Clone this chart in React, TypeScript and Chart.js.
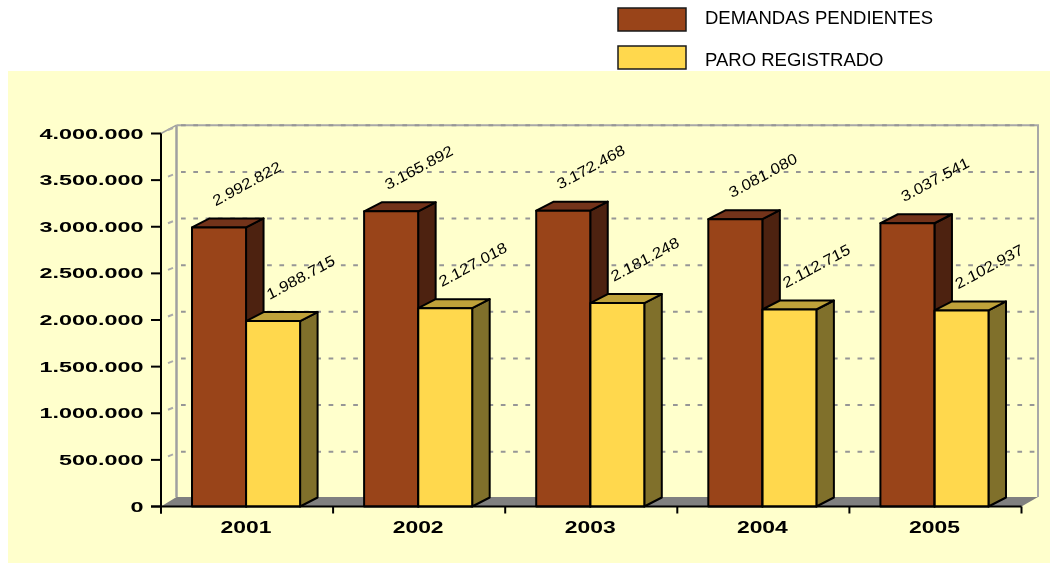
import React, { useEffect, useRef } from "react";
import { Chart, registerables } from "chart.js";

Chart.register(...registerables);

const years = ["2001", "2002", "2003", "2004", "2005"];
const demandas = [2992822, 3165892, 3172468, 3081080, 3037541];
const paro = [1988715, 2127018, 2181248, 2112715, 2102937];
const seriesNames = ["DEMANDAS PENDIENTES", "PARO REGISTRADO"];

const formatES = (v: number) => String(v).replace(/\B(?=(\d{3})+(?!\d))/g, ".");

const DX = 17.5;
const DY = -9;
const PALETTE = [
  { front: "#994419", top: "#73331A", side: "#4D2210" },
  { front: "#FFD84D", top: "#BFA23A", side: "#80702B" },
];
const FONT = '"Liberation Sans", Arial, sans-serif';

function stretched(ctx: CanvasRenderingContext2D, text: string, x: number, y: number, font: string, sx: number, align: "right" | "center") {
  ctx.save();
  ctx.translate(x, y);
  ctx.scale(sx, 1);
  ctx.font = font;
  ctx.fillStyle = "#000";
  ctx.textAlign = align;
  ctx.textBaseline = "alphabetic";
  ctx.fillText(text, 0, 0);
  ctx.restore();
}

function poly(ctx: CanvasRenderingContext2D, pts: number[][], fill: string, stroke?: string, lw = 2) {
  ctx.beginPath();
  pts.forEach((p, i) => (i ? ctx.lineTo(p[0], p[1]) : ctx.moveTo(p[0], p[1])));
  ctx.closePath();
  ctx.fillStyle = fill;
  ctx.fill();
  if (stroke) {
    ctx.lineWidth = lw;
    ctx.strokeStyle = stroke;
    ctx.lineJoin = "round";
    ctx.stroke();
  }
}

const chart3d = {
  id: "chart3d",
  beforeDraw(chart: any) {
    const ctx = chart.ctx as CanvasRenderingContext2D;
    ctx.save();
    ctx.fillStyle = "#FFFFFF";
    ctx.fillRect(0, 0, chart.width, chart.height);
    ctx.fillStyle = "#FFFFCC";
    ctx.fillRect(8, 71, chart.width - 8, chart.height - 71);
    ctx.restore();
  },
  beforeDatasetsDraw(chart: any) {
    const ctx = chart.ctx as CanvasRenderingContext2D;
    const { left, right, top, bottom } = chart.chartArea;
    const yScale = chart.scales.y;
    const ax = left + 1;
    const wallL = left + 16.5;
    const wallR = right + DX;
    ctx.save();
    // floor
    poly(ctx, [[ax, bottom], [wallL, bottom - 9.5], [wallR, bottom - 9.5], [right + 1, bottom]], "#808080");
    // walls
    ctx.strokeStyle = "#A0A0A0";
    ctx.lineWidth = 2.5;
    ctx.beginPath();
    ctx.moveTo(wallL, top - 8.3);
    ctx.lineTo(wallL, bottom - 9.5);
    ctx.stroke();
    ctx.lineWidth = 1.5;
    ctx.beginPath();
    ctx.moveTo(ax, top);
    ctx.lineTo(wallL, top - 8.3);
    ctx.stroke();
    ctx.strokeStyle = "#A8A8A8";
    ctx.lineWidth = 2;
    ctx.beginPath();
    ctx.moveTo(wallL, top - 8.3);
    ctx.lineTo(wallR, top - 8.3);
    ctx.lineTo(wallR, bottom - 9.5);
    ctx.stroke();
    // grid
    ctx.lineWidth = 2;
    yScale.ticks.forEach((t: any) => {
      const y = yScale.getPixelForValue(t.value);
      if (t.value === 0) return;
      ctx.strokeStyle = "#ABABAB";
      ctx.setLineDash([]);
      ctx.beginPath();
      ctx.moveTo(left + 8, y - 3.5);
      ctx.lineTo(left + 13, y - 5.5);
      ctx.stroke();
      ctx.strokeStyle = "#969696";
      ctx.setLineDash([4.7, 7.6]);
      ctx.beginPath();
      ctx.moveTo(left + 21, y - 8.2);
      ctx.lineTo(right + 14, y - 8.2);
      ctx.stroke();
    });
    ctx.setLineDash([]);
    // depth faces of every bar
    chart.data.datasets.forEach((_: any, di: number) => {
      const meta = chart.getDatasetMeta(di);
      const c = PALETTE[di];
      meta.data.forEach((bar: any) => {
        const l = bar.x - bar.width / 2;
        const r = bar.x + bar.width / 2;
        poly(ctx, [[r, bar.y], [r + DX, bar.y + DY], [r + DX, bar.base + DY], [r, bar.base]], c.side, "#000");
        poly(ctx, [[l, bar.y], [l + DX, bar.y + DY], [r + DX, bar.y + DY], [r, bar.y]], c.top, "#000");
      });
    });
    ctx.restore();
  },
  afterDatasetsDraw(chart: any) {
    const ctx = chart.ctx as CanvasRenderingContext2D;
    ctx.save();
    ctx.strokeStyle = "#000";
    ctx.lineWidth = 2;
    ctx.lineJoin = "round";
    chart.data.datasets.forEach((_: any, di: number) => {
      chart.getDatasetMeta(di).data.forEach((bar: any) => {
        ctx.strokeRect(bar.x - bar.width / 2, bar.y, bar.width, bar.base - bar.y);
      });
    });
    ctx.restore();
  },
  afterDraw(chart: any) {
    const ctx = chart.ctx as CanvasRenderingContext2D;
    const { left, right, top, bottom } = chart.chartArea;
    const xScale = chart.scales.x;
    const yScale = chart.scales.y;
    const ax = left + 1;
    ctx.save();
    // axes
    ctx.strokeStyle = "#000";
    ctx.lineWidth = 2;
    ctx.beginPath();
    ctx.moveTo(ax, top);
    ctx.lineTo(ax, bottom + 7);
    ctx.moveTo(ax - 10, bottom);
    ctx.lineTo(right + 1, bottom);
    ctx.stroke();
    yScale.ticks.forEach((t: any) => {
      const y = yScale.getPixelForValue(t.value);
      ctx.beginPath();
      ctx.moveTo(ax - 10, y);
      ctx.lineTo(ax, y);
      ctx.stroke();
      stretched(ctx, t.label, ax - 17.5, y + 5, `bold 14px ${FONT}`, 1.67, "right");
    });
    const step = (right - left) / xScale.ticks.length;
    for (let i = 0; i <= xScale.ticks.length; i++) {
      const x = ax + i * step;
      ctx.beginPath();
      ctx.moveTo(x, bottom);
      ctx.lineTo(x, bottom + 7);
      ctx.stroke();
    }
    xScale.ticks.forEach((t: any, i: number) => {
      stretched(ctx, t.label, xScale.getPixelForTick(i), bottom + 26.5, `bold 16px ${FONT}`, 1.43, "center");
    });
    // value labels
    chart.data.datasets.forEach((ds: any, di: number) => {
      chart.getDatasetMeta(di).data.forEach((bar: any, i: number) => {
        ctx.save();
        ctx.transform(1.03, -0.56, 0.42, 0.95, bar.x - 3.5, bar.y - 21);
        ctx.font = `14.5px ${FONT}`;
        ctx.fillStyle = "#000";
        ctx.textAlign = "left";
        ctx.textBaseline = "alphabetic";
        ctx.fillText(formatES(ds.data[i]), 0, 0);
        ctx.restore();
      });
    });
    // legend
    chart.data.datasets.forEach((ds: any, di: number) => {
      const y = 8 + di * 38;
      ctx.fillStyle = ds.backgroundColor;
      ctx.fillRect(618, y, 68, 23);
      ctx.strokeStyle = "#1A1A1A";
      ctx.lineWidth = 1.5;
      ctx.strokeRect(618, y, 68, 23);
      ctx.fillStyle = "#000";
      ctx.font = `18.5px ${FONT}`;
      ctx.textAlign = "left";
      ctx.textBaseline = "alphabetic";
      ctx.fillText(ds.label, 705, y + 16 + di * 4);
    });
    ctx.restore();
  },
};

export default function App() {
  const ref = useRef<HTMLCanvasElement | null>(null);
  useEffect(() => {
    const chart = new Chart(ref.current as HTMLCanvasElement, {
      type: "bar",
      data: {
        labels: years,
        datasets: [
          { label: seriesNames[0], data: demandas, backgroundColor: PALETTE[0].front, borderWidth: 0, clip: false as any },
          { label: seriesNames[1], data: paro, backgroundColor: PALETTE[1].front, borderWidth: 0, clip: false as any },
        ],
      },
      options: {
        responsive: false,
        animation: false,
        devicePixelRatio: 1,
        layout: { padding: { left: 160, right: 29.5, top: 133.5, bottom: 56.5 } },
        datasets: { bar: { categoryPercentage: 0.628, barPercentage: 1 } },
        plugins: { legend: { display: false }, tooltip: { enabled: false } },
        scales: {
          x: {
            grid: { display: false },
            border: { display: false },
            ticks: { display: false },
            afterFit: (s: any) => { s.height = 0; },
          },
          y: {
            min: 0,
            max: 4000000,
            grid: { display: false },
            border: { display: false },
            ticks: { display: false, stepSize: 500000, callback: (v: any) => formatES(Number(v)) },
            afterFit: (s: any) => { s.width = 0; },
          },
        },
      } as any,
      plugins: [chart3d],
    });
    return () => chart.destroy();
  }, []);
  return (
    <div style={{ position: "absolute", left: 0, top: 0, width: 1050, height: 563 }}>
      <canvas ref={ref} width={1050} height={563} style={{ display: "block" }} />
    </div>
  );
}
